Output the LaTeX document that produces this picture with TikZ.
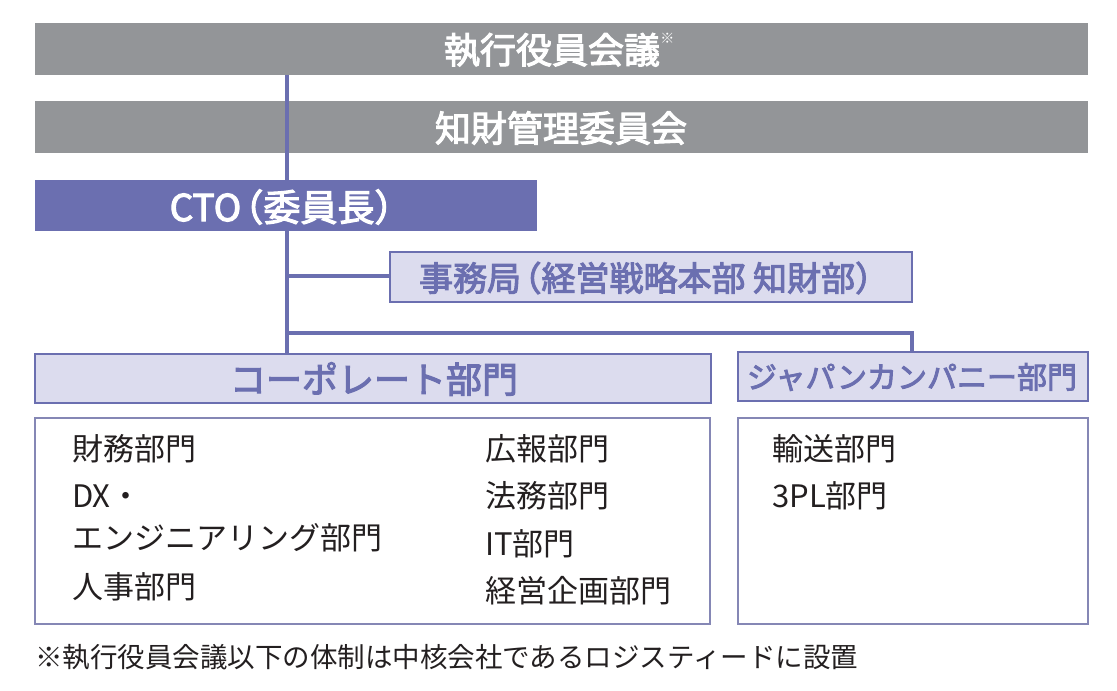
\documentclass[tikz,border=0pt]{standalone}
\usepackage{fontspec}
\setmainfont{Noto Sans CJK JP}
\newfontfamily\jpmid{Noto Sans CJK JP}[FakeBold=3]
\definecolor{barGray}{HTML}{939598}
\definecolor{ctoPurple}{HTML}{6B6FB0}
\definecolor{lav}{HTML}{DCDCEE}
\definecolor{txtDark}{HTML}{231F20}
\definecolor{boxLine}{HTML}{8587B5}
\tikzset{
  bar/.style={fill=barGray, draw=none},
  ctobox/.style={fill=ctoPurple, draw=none},
  lavbox/.style={fill=lav, draw=ctoPurple, line width=1.3pt},
  listbox/.style={fill=white, draw=boxLine, line width=1.3pt},
  conn/.style={draw=ctoPurple, line width=3.5pt},
  whitetxt/.style={text=white, inner sep=0pt},
  purtxt/.style={text=ctoPurple, inner sep=0pt},
  item/.style={text=txtDark, inner sep=0pt, anchor=west, font=\fontsize{31}{31}\selectfont},
}
\begin{document}
\begin{tikzpicture}[x=1pt,y=-1pt]
\useasboundingbox (0,0) rectangle (1117,691);
% boxes
\path[bar] (35,23) rectangle (1088,75);
\path[bar] (35,101) rectangle (1088,153);
% connectors (behind)
\coordinate (topc) at (287,75);
\coordinate (br1) at (287,276);
\coordinate (br2) at (287,333);
\coordinate (jpc) at (912,333);
\draw[conn] (topc) -- (287,355);
\draw[conn] (br1) -- (390,276);
\draw[conn] (br2) -- (jpc) -- (912,353);
\path[ctobox] (35,180) rectangle (537,231);
\path[lavbox] (390,252) rectangle (912,302);
\path[lavbox] (35,354) rectangle (711,403);
\path[lavbox] (738,352) rectangle (1088,401);
\path[listbox] (35,418) rectangle (710,624);
\path[listbox] (738,418) rectangle (1088,624);
% texts
\node[whitetxt, font=\jpmid\fontsize{36}{36}\selectfont] (t1) at (552,50) {執行役員会議};
\node[whitetxt, font=\fontsize{14}{14}\selectfont, anchor=north west] (t1s) at (t1.north east) {※};
\node[whitetxt, font=\jpmid\fontsize{36}{36}\selectfont] (t2) at (561,128) {知財管理委員会};
\node[whitetxt, font=\jpmid\fontsize{37}{37}\selectfont] (t3) at (285,207) {CTO\kern-0.4em（委員長）\kern-0.3em};
\node[purtxt, font=\jpmid\fontsize{34}{34}\selectfont] (t4) at (649,278) {事務局\kern-0.4em（経営戦略本部 知財部）\kern-0.3em};
\node[purtxt, font=\jpmid\fontsize{36}{36}\selectfont] (t5) at (374,379) {コーポレート部門};
\node[purtxt, font=\jpmid\fontsize{30}{30}\selectfont] (t6) at (912,377) {ジャパンカンパニー部門};
% list items
\node[item] (a1) at (72,449) {財務部門};
\node[item] (a2) at (72,496) {DX・};
\node[item] (a3) at (72,538) {エンジニアリング部門};
\node[item] (a4) at (72,587) {人事部門};
\node[item] (b1) at (485,449) {広報部門};
\node[item] (b2) at (485,496) {法務部門};
\node[item] (b3) at (485,544) {IT部門};
\node[item] (b4) at (485,591) {経営企画部門};
\node[item] (c1) at (772,449) {輸送部門};
\node[item] (c2) at (772,496) {3PL部門};
\node[item, font=\fontsize{27.5}{27.5}\selectfont] (fn) at (35,657) {※執行役員会議以下の体制は中核会社であるロジスティードに設置};
\end{tikzpicture}
\end{document}
